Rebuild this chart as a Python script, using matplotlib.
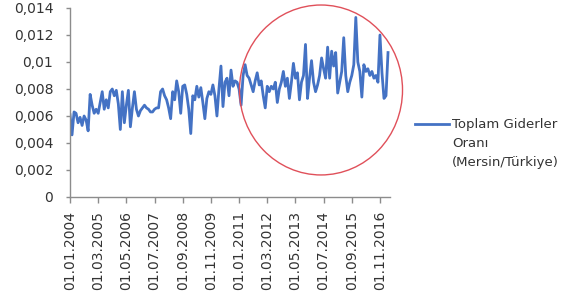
import numpy as np
import pandas as pd
import matplotlib
matplotlib.use("Agg")
import matplotlib.pyplot as plt
from matplotlib.patches import Ellipse

# ---------------- Data (monthly) ---------------- #

start_month = "2004-01-01"
tick_step = 14  # Excel showed every 14th category label

oran = [
    0.0061, 0.0046, 0.0063, 0.0062, 0.0055, 0.0059, 0.0053, 0.0060, 0.0057, 0.0049,
    0.0076, 0.0068, 0.0062, 0.0065, 0.0062, 0.0070, 0.0078, 0.0065, 0.0072, 0.0066,
    0.0078, 0.0080, 0.0075, 0.0079, 0.0069, 0.0050, 0.0078, 0.0055, 0.0068, 0.0079,
    0.0052, 0.0066, 0.0078, 0.0065, 0.0060, 0.0064, 0.0066, 0.0068, 0.0066, 0.0065,
    0.0063, 0.0063, 0.0065, 0.0066, 0.0066, 0.0078, 0.0080, 0.0075, 0.0072, 0.0066,
    0.0058, 0.0078, 0.0072, 0.0086, 0.0078, 0.0062, 0.0082, 0.0083, 0.0076, 0.0065,
    0.0047, 0.0075, 0.0072, 0.0082, 0.0074, 0.0081, 0.0070, 0.0058, 0.0073, 0.0078,
    0.0076, 0.0083, 0.0075, 0.0060, 0.0080, 0.0097, 0.0067, 0.0085, 0.0088, 0.0075,
    0.0094, 0.0082, 0.0086, 0.0085, 0.0080, 0.0068, 0.0090, 0.0098, 0.0090, 0.0088,
    0.0083, 0.0078, 0.0086, 0.0092, 0.0083, 0.0086, 0.0075, 0.0066, 0.0082, 0.0078,
    0.0082, 0.0080, 0.0085, 0.0070, 0.0080, 0.0085, 0.0093, 0.0082, 0.0088, 0.0073,
    0.0085, 0.0099, 0.0088, 0.0092, 0.0072, 0.0085, 0.0090, 0.0113, 0.0073, 0.0088,
    0.0101, 0.0085, 0.0078, 0.0083, 0.0090, 0.0103, 0.0095, 0.0088, 0.0111, 0.0088,
    0.0108, 0.0097, 0.0107, 0.0077, 0.0085, 0.0093, 0.0118, 0.0090, 0.0078, 0.0085,
    0.0090, 0.0098, 0.0133, 0.0100, 0.0093, 0.0074, 0.0098, 0.0093, 0.0095, 0.0090,
    0.0093, 0.0088, 0.0090, 0.0085, 0.0120, 0.0092, 0.0073, 0.0075, 0.0107,
]

y_ticks = [0, 0.002, 0.004, 0.006, 0.008, 0.01, 0.012, 0.014]
y_labels = ["0", "0,002", "0,004", "0,006", "0,008", "0,01", "0,012", "0,014"]
series_label = "Toplam Giderler\nOranı\n(Mersin/Türkiye)"

dates = pd.date_range(start_month, periods=len(oran), freq="MS")
x = np.arange(len(oran))

# ---------------- Plot ---------------- #

text_col = "#333333"
axis_col = "#8c8c8c"

fig = plt.figure(figsize=(5.81, 3.04), dpi=100)
ax = fig.add_axes([0.1205, 0.352, 0.5508, 0.6217])

line, = ax.plot(x, oran, color="#4472C4", lw=2.0, label=series_label)

ax.set_xlim(0, len(oran))
ax.set_ylim(0, 0.014)
ax.set_yticks(y_ticks)
ax.set_yticklabels(y_labels)

tick_idx = x[::tick_step]
ax.set_xticks(tick_idx)
ax.set_xticklabels([d.strftime("%d.%m.%Y") for d in dates[tick_idx]], rotation=90)

for side in ("top", "right"):
    ax.spines[side].set_visible(False)
for side in ("left", "bottom"):
    ax.spines[side].set_color(axis_col)
    ax.spines[side].set_linewidth(1.0)

ax.tick_params(axis="y", length=3, width=1, color=axis_col, pad=9,
               labelsize=10, labelcolor=text_col)
ax.tick_params(axis="x", length=4, width=1, color=axis_col, pad=6,
               labelsize=10, labelcolor=text_col)

# red highlight circle drawn over the recent period
fig.add_artist(Ellipse((0.5525, 0.704), 0.2806, 0.559, transform=fig.transFigure,
                       fill=False, edgecolor="#e0505a", lw=1.0))

leg = fig.legend(handles=[line], loc="upper left", bbox_to_anchor=(0.714, 0.612),
                 frameon=False, fontsize=9.5, handlelength=2.6, handleheight=1.2,
                 handletextpad=0.2, borderpad=0, borderaxespad=0)
# Excel puts the line next to the first line of a wrapped label
for col in leg._legend_handle_box.get_children():
    for row in col.get_children():
        row.align = "top"
for t in leg.get_texts():
    t.set_color(text_col)
    t.set_linespacing(1.6)

fig.savefig("out.png", dpi=100)
